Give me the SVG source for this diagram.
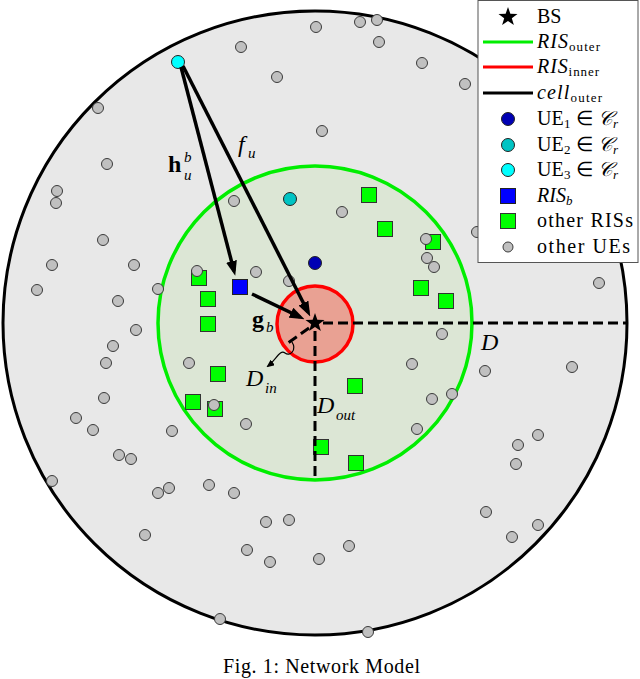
<svg xmlns="http://www.w3.org/2000/svg" xmlns:xlink="http://www.w3.org/1999/xlink" width="640" height="679" viewBox="0 0 640 679">
<style>
.ue{fill:#c0c0c0;stroke:#3a3a3a;stroke-width:1}
.ris{fill:#00ff00;stroke:#333;stroke-width:1}
.arrow{stroke:#000;stroke-width:3.5;fill:none;marker-end:url(#ah)}
.dash{stroke:#000;stroke-width:3;fill:none;stroke-dasharray:10 5}
.t{font-family:"Liberation Serif","Times New Roman",serif;fill:#000}
.lg{font-family:"Liberation Serif","Times New Roman",serif;fill:#000;font-size:20px}
.it{font-style:italic}
.bd{font-weight:bold}
</style>
<defs>
<marker id="ah" markerWidth="15" markerHeight="11" refX="10" refY="5.5" orient="auto" markerUnits="userSpaceOnUse">
<path d="M0,0 L15,5.5 L0,11 z" fill="#000"/>
</marker>
<marker id="ahs" markerWidth="8" markerHeight="7" refX="6" refY="3.5" orient="auto" markerUnits="userSpaceOnUse">
<path d="M0,0 L8,3.5 L0,7 z" fill="#000"/>
</marker>
<polygon id="star" points="0,-10 2.35,-3.24 9.51,-3.09 3.8,1.24 5.88,8.09 0,4 -5.88,8.09 -3.8,1.24 -9.51,-3.09 -2.35,-3.24" fill="#000"/>
</defs>
<rect width="640" height="679" fill="#fff"/>
<g id="cell">
<circle cx="315" cy="323" r="312" fill="#e8e8e8" stroke="#000" stroke-width="3"/>
</g>
<g id="ris-outer">
<circle cx="315" cy="323" r="157" fill="#dce6d5" stroke="#00ee00" stroke-width="3.5"/>
</g>
<g id="ris-inner">
<circle cx="315" cy="324" r="38" fill="#e9a193" stroke="#ff0000" stroke-width="3.5"/>
</g>
<g id="other-riss">
<rect class="ris" x="361.5" y="187.5" width="15" height="15"/>
<rect class="ris" x="377.5" y="221.5" width="15" height="15"/>
<rect class="ris" x="425.5" y="234.5" width="15" height="15"/>
<rect class="ris" x="413.5" y="280.5" width="15" height="15"/>
<rect class="ris" x="438.5" y="293.5" width="15" height="15"/>
<rect class="ris" x="191.5" y="270.5" width="15" height="15"/>
<rect class="ris" x="200.5" y="291.5" width="15" height="15"/>
<rect class="ris" x="200.5" y="316.5" width="15" height="15"/>
<rect class="ris" x="210.5" y="366.5" width="15" height="15"/>
<rect class="ris" x="185.5" y="394.5" width="15" height="15"/>
<rect class="ris" x="207.5" y="401.5" width="15" height="15"/>
<rect class="ris" x="347.5" y="378.5" width="15" height="15"/>
<rect class="ris" x="313.5" y="439.5" width="15" height="15"/>
<rect class="ris" x="348.5" y="455.5" width="15" height="15"/>
</g>
<g id="other-ues">
<circle class="ue" cx="316" cy="27" r="5.5"/><circle class="ue" cx="241" cy="47" r="5.5"/><circle class="ue" cx="277" cy="77" r="5.5"/><circle class="ue" cx="98" cy="108" r="5.5"/><circle class="ue" cx="322" cy="131" r="5.5"/><circle class="ue" cx="107" cy="164" r="5.5"/><circle class="ue" cx="57" cy="191" r="5.5"/><circle class="ue" cx="56" cy="203" r="5.5"/><circle class="ue" cx="234" cy="201" r="5.5"/><circle class="ue" cx="103" cy="240" r="5.5"/><circle class="ue" cx="52" cy="265" r="5.5"/><circle class="ue" cx="134" cy="265" r="5.5"/><circle class="ue" cx="37" cy="290" r="5.5"/><circle class="ue" cx="158" cy="289" r="5.5"/><circle class="ue" cx="118" cy="301" r="5.5"/><circle class="ue" cx="136" cy="330" r="5.5"/><circle class="ue" cx="197" cy="271" r="5.5"/><circle class="ue" cx="256" cy="272" r="5.5"/><circle class="ue" cx="289" cy="281" r="5.5"/>
<circle class="ue" cx="360" cy="22" r="5.5"/><circle class="ue" cx="377" cy="20" r="5.5"/><circle class="ue" cx="379" cy="42" r="5.5"/><circle class="ue" cx="422" cy="63" r="5.5"/><circle class="ue" cx="465" cy="84" r="5.5"/><circle class="ue" cx="342" cy="212" r="5.5"/><circle class="ue" cx="477" cy="232" r="5.5"/><circle class="ue" cx="426" cy="239" r="5.5"/><circle class="ue" cx="427" cy="258" r="5.5"/><circle class="ue" cx="434" cy="267" r="5.5"/><circle class="ue" cx="599" cy="283" r="5.5"/><circle class="ue" cx="442" cy="334" r="5.5"/>
<circle class="ue" cx="113" cy="346" r="5.5"/><circle class="ue" cx="106" cy="363" r="5.5"/><circle class="ue" cx="189" cy="363" r="5.5"/><circle class="ue" cx="104" cy="398" r="5.5"/><circle class="ue" cx="76" cy="418" r="5.5"/><circle class="ue" cx="93" cy="430" r="5.5"/><circle class="ue" cx="172" cy="431" r="5.5"/><circle class="ue" cx="246" cy="424" r="5.5"/><circle class="ue" cx="119" cy="455" r="5.5"/><circle class="ue" cx="131" cy="459" r="5.5"/><circle class="ue" cx="52" cy="481" r="5.5"/><circle class="ue" cx="169" cy="488" r="5.5"/><circle class="ue" cx="158" cy="493" r="5.5"/><circle class="ue" cx="209" cy="485" r="5.5"/><circle class="ue" cx="234" cy="493" r="5.5"/><circle class="ue" cx="266" cy="522" r="5.5"/><circle class="ue" cx="289" cy="520" r="5.5"/><circle class="ue" cx="145" cy="535" r="5.5"/><circle class="ue" cx="247" cy="550" r="5.5"/><circle class="ue" cx="270" cy="562" r="5.5"/><circle class="ue" cx="220" cy="619" r="5.5"/><circle class="ue" cx="319" cy="559" r="5.5"/><circle class="ue" cx="214" cy="405" r="5.5"/>
<circle class="ue" cx="412" cy="364" r="5.5"/><circle class="ue" cx="485" cy="371" r="5.5"/><circle class="ue" cx="572" cy="367" r="5.5"/><circle class="ue" cx="432" cy="399" r="5.5"/><circle class="ue" cx="452" cy="394" r="5.5"/><circle class="ue" cx="417" cy="429" r="5.5"/><circle class="ue" cx="538" cy="435" r="5.5"/><circle class="ue" cx="518" cy="445" r="5.5"/><circle class="ue" cx="516" cy="464" r="5.5"/><circle class="ue" cx="486" cy="512" r="5.5"/><circle class="ue" cx="538" cy="525" r="5.5"/><circle class="ue" cx="512" cy="537" r="5.5"/><circle class="ue" cx="349" cy="546" r="5.5"/><circle class="ue" cx="368" cy="632" r="5.5"/>
</g>
<g id="ue1"><circle cx="315" cy="263" r="6.5" fill="#0000b4" stroke="#222" stroke-width="1"/></g>
<g id="ue2"><circle cx="290" cy="199" r="6.5" fill="#00c4c4" stroke="#222" stroke-width="1"/></g>
<g id="ue3"><circle cx="178" cy="62" r="6.5" fill="#00ffff" stroke="#222" stroke-width="1"/></g>
<g id="ris-b"><rect x="232.5" y="279.5" width="15" height="15" fill="#0000ff" stroke="#222" stroke-width="1"/></g>
<g id="connectors">
<path class="dash" d="M323,323 H627"/>
<path class="dash" d="M315,331 V480"/>
<path class="dash" d="M309,328 L288,343"/>
<path d="M292,342 C297,350 290,357 285,353 C280,349 276,360 268,366" fill="none" stroke="#000" stroke-width="1.2" marker-end="url(#ahs)"/>
<path class="arrow" d="M181,67 L234,271"/>
<path class="arrow" d="M183,66 L308,312"/>
<path class="arrow" d="M252,294 L300,317"/>
</g>
<g id="bs"><use xlink:href="#star" href="#star" x="315" y="323"/></g>
<g id="labels">
<text class="t bd" x="168" y="172" font-size="24">h</text>
<text class="t it" x="184" y="162" font-size="15">b</text>
<text class="t it" x="184" y="180" font-size="15">u</text>
<text class="t it" x="238" y="152" font-size="24">f</text>
<text class="t it" x="248" y="158" font-size="15">u</text>
<text class="t bd" x="252" y="327" font-size="24">g</text>
<text class="t it" x="266" y="332" font-size="15">b</text>
<text class="t it" x="246" y="386" font-size="24">D</text>
<text class="t it" x="265" y="393" font-size="15">in</text>
<text class="t it" x="317" y="413" font-size="24">D</text>
<text class="t it" x="336" y="420" font-size="15">out</text>
<text class="t it" x="481" y="350" font-size="24">D</text>
</g>
<g id="legend">
<rect x="478" y="0.5" width="160" height="262" fill="#fff" stroke="#555" stroke-width="1"/>
<use xlink:href="#star" href="#star" x="508" y="17"/>
<text class="lg" x="537" y="23">BS</text>
<line x1="483" y1="42" x2="533" y2="42" stroke="#00ee00" stroke-width="3"/>
<text class="lg" x="537" y="48" textLength="63" lengthAdjust="spacing"><tspan class="it">RIS</tspan><tspan font-size="13" dy="3">outer</tspan></text>
<line x1="483" y1="67" x2="533" y2="67" stroke="#ff0000" stroke-width="3"/>
<text class="lg" x="537" y="73" textLength="62" lengthAdjust="spacing"><tspan class="it">RIS</tspan><tspan font-size="13" dy="3">inner</tspan></text>
<line x1="483" y1="93" x2="533" y2="93" stroke="#000" stroke-width="3"/>
<text class="lg" x="537" y="99" textLength="65" lengthAdjust="spacing"><tspan class="it">cell</tspan><tspan font-size="13" dy="3">outer</tspan></text>
<circle cx="508" cy="119" r="6.5" fill="#0000b4" stroke="#222" stroke-width="1"/>
<text class="lg" x="537" y="125" textLength="81" lengthAdjust="spacing">UE<tspan font-size="13" dy="3">1</tspan><tspan dy="-3"> ∈ </tspan><tspan class="it">𝒞</tspan><tspan class="it" font-size="13" dy="3">r</tspan></text>
<circle cx="508" cy="145" r="6.5" fill="#00c4c4" stroke="#222" stroke-width="1"/>
<text class="lg" x="537" y="151" textLength="81" lengthAdjust="spacing">UE<tspan font-size="13" dy="3">2</tspan><tspan dy="-3"> ∈ </tspan><tspan class="it">𝒞</tspan><tspan class="it" font-size="13" dy="3">r</tspan></text>
<circle cx="508" cy="170" r="6.5" fill="#00ffff" stroke="#222" stroke-width="1"/>
<text class="lg" x="537" y="176" textLength="81" lengthAdjust="spacing">UE<tspan font-size="13" dy="3">3</tspan><tspan dy="-3"> ∈ </tspan><tspan class="it">𝒞</tspan><tspan class="it" font-size="13" dy="3">r</tspan></text>
<rect x="500.5" y="188.5" width="15" height="15" fill="#0000ff" stroke="#222" stroke-width="1"/>
<text class="lg" x="537" y="202"><tspan class="it">RIS</tspan><tspan class="it" font-size="13" dy="3">b</tspan></text>
<rect class="ris" x="500.5" y="213.5" width="15" height="15"/>
<text class="lg" x="537" y="227" textLength="96" lengthAdjust="spacing">other RISs</text>
<circle class="ue" cx="508" cy="247" r="5"/>
<text class="lg" x="537" y="253" textLength="93" lengthAdjust="spacing">other UEs</text>
</g>
<g id="caption">
<text class="t" x="223" y="673" font-size="20" textLength="197" lengthAdjust="spacing">Fig. 1: Network Model</text>
</g>
</svg>
